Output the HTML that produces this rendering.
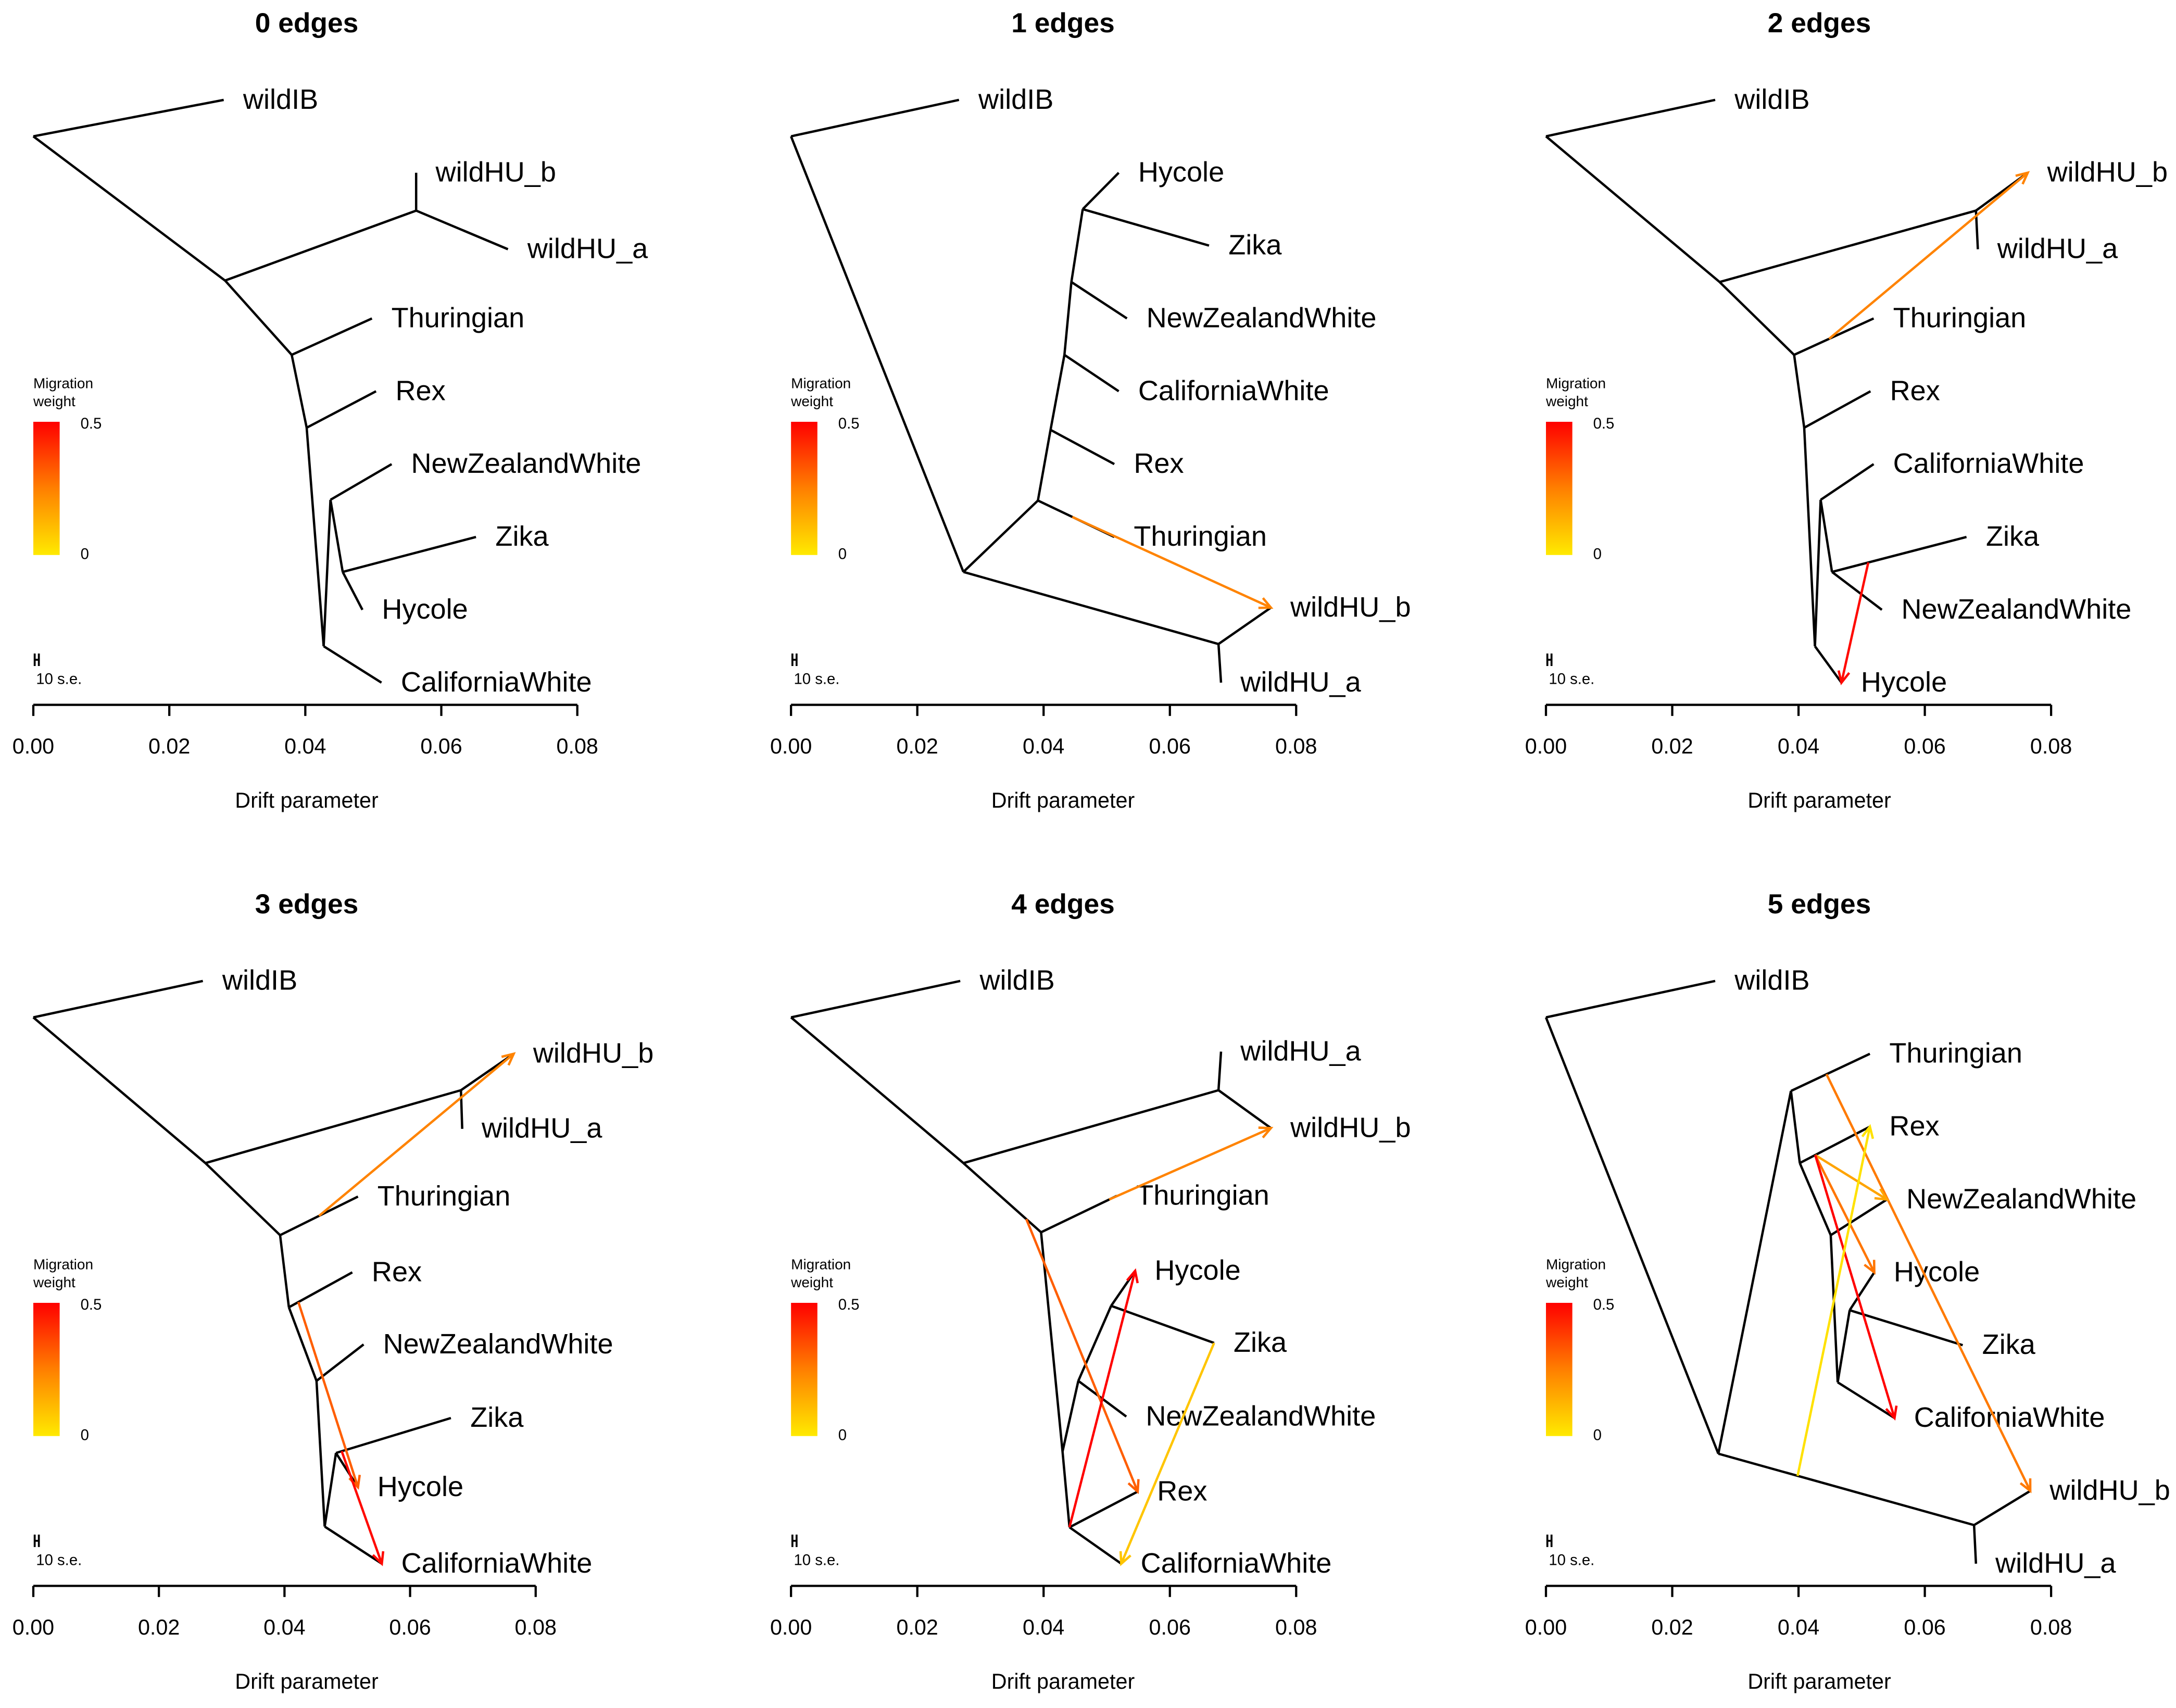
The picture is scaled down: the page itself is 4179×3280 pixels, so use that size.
<!DOCTYPE html>
<html><head><meta charset="utf-8"><style>
html,body{margin:0;padding:0;background:#fff}
svg{display:block}
text{font-family:"Liberation Sans",Arial,sans-serif;fill:#000}
</style></head>
<body>
<svg id="chart" xmlns="http://www.w3.org/2000/svg" width="4179" height="3280" viewBox="0 0 1568 1231" preserveAspectRatio="none">
<defs>
<linearGradient id="mgrad" x1="0" y1="1" x2="0" y2="0">
<stop offset="0" stop-color="#FFEA00"/><stop offset="0.5" stop-color="#FF7F00"/><stop offset="1" stop-color="#FF0000"/>
</linearGradient>
</defs>
</svg>
<script>
// ---------- data ----------
const panelTitles = ["0 edges","1 edges","2 edges","3 edges","4 edges","5 edges"];
const tickValues = [0,0.02,0.04,0.06,0.08];
const tickLabels = ["0.00","0.02","0.04","0.06","0.08"];

const p0Names = ["","wildIB","","","wildHU_b","wildHU_a","","Thuringian","","Rex","","CaliforniaWhite","","NewZealandWhite","","Zika","Hycole"];
const p0Drift = [0,0.028,0.0282,0.0563,0.0563,0.0698,0.038,0.0498,0.0402,0.0504,0.0427,0.0512,0.0437,0.0527,0.0455,0.0651,0.0484];
const p0Slot  = [0.5,0,2.48,1.52,1.0,2.05,3.5,3.0,4.5,4.0,7.5,8,5.49,5,6.48,6,7];
const p0Edges = [[0,1],[0,2],[2,3],[3,4],[3,5],[2,6],[6,7],[6,8],[8,9],[8,10],[10,11],[10,12],[12,13],[12,14],[14,15],[14,16]];
const p0Migs  = [];

const p1Names = ["","wildIB","","","wildHU_b","wildHU_a","","Thuringian","","Rex","","CaliforniaWhite","","NewZealandWhite","","Zika","Hycole"];
const p1Drift = [0,0.0266,0.0273,0.0677,0.076,0.0681,0.0391,0.0512,0.0411,0.0512,0.0433,0.0519,0.0444,0.0532,0.0462,0.0662,0.0519];
const p1Slot  = [0.5,0,6.48,7.47,6.97,8,5.5,6,4.53,5,3.5,4,2.5,3,1.5,2,1];
const p1Edges = [[0,1],[0,2],[2,3],[3,4],[3,5],[2,6],[6,7],[6,8],[8,9],[8,10],[10,11],[10,12],[12,13],[12,14],[14,15],[14,16]];
const p1Migs  = [[6,7,0.45,4,0.22]];

const p2Names = ["","wildIB","","","wildHU_b","wildHU_a","","Thuringian","","Rex","","Hycole","","CaliforniaWhite","","Zika","NewZealandWhite"];
const p2Drift = [0,0.0268,0.0275,0.0681,0.0763,0.0684,0.0393,0.0519,0.0409,0.0514,0.0426,0.0468,0.0435,0.0519,0.0453,0.0666,0.0532];
const p2Slot  = [0.5,0,2.5,1.52,1,2.05,3.5,3,4.5,4,7.5,8,5.49,5,6.48,6,7];
const p2Edges = [[0,1],[0,2],[2,3],[3,4],[3,5],[2,6],[6,7],[6,8],[8,9],[8,10],[10,11],[10,12],[12,13],[12,14],[14,15],[14,16]];
const p2Migs  = [[6,7,0.44,4,0.22],[14,15,0.27,11,0.48]];

const p3Names = ["","wildIB","","","wildHU_b","wildHU_a","","Thuringian","","Rex","","NewZealandWhite","","CaliforniaWhite","","Zika","Hycole"];
const p3Drift = [0,0.027,0.0274,0.0681,0.0765,0.0683,0.0393,0.0517,0.0407,0.0508,0.0451,0.0526,0.0464,0.0555,0.0482,0.0665,0.0517];
const p3Slot  = [0.5,0,2.5,1.5,1,2.03,3.49,2.96,4.48,4,5.49,4.99,7.49,8,6.48,6,6.95];
const p3Edges = [[0,1],[0,2],[2,3],[3,4],[3,5],[2,6],[6,7],[6,8],[8,9],[8,10],[10,11],[10,12],[12,13],[12,14],[14,15],[14,16]];
const p3Migs  = [[6,7,0.5,4,0.22],[8,9,0.15,16,0.3],[14,15,0.05,13,0.48]];

const p4Names = ["","wildIB","","","wildHU_a","wildHU_b","","Thuringian","","","","","Rex","CaliforniaWhite","NewZealandWhite","Hycole","Zika"];
const p4Drift = [0,0.0268,0.0273,0.0677,0.0681,0.076,0.0396,0.0516,0.043,0.0441,0.0455,0.0507,0.0549,0.0523,0.0531,0.0545,0.067];
const p4Slot  = [0.5,0,2.5,1.5,0.97,2.02,3.45,2.95,6.46,7.5,5.49,4.46,7.01,8,5.98,3.98,4.97];
const p4Edges = [[0,1],[0,2],[2,3],[3,4],[3,5],[2,6],[6,7],[6,8],[8,9],[8,10],[9,12],[9,13],[10,14],[10,11],[11,15],[11,16]];
const p4Migs  = [[2,6,0.81,12,0.3],[6,7,0.9,5,0.22],[9,12,0,15,0.5],[11,16,1,13,0.08]];

const p5Names = ["","wildIB","","","wildHU_b","wildHU_a","","Thuringian","","Rex","","NewZealandWhite","","","Hycole","Zika","CaliforniaWhite"];
const p5Drift = [0,0.0268,0.0273,0.0678,0.0767,0.0681,0.0388,0.0513,0.0402,0.0513,0.0451,0.054,0.0462,0.0481,0.052,0.066,0.0552];
const p5Slot  = [0.5,0,6.49,7.47,7,8,1.51,1,2.5,2,3.49,3,5.51,4.52,4,5,6];
const p5Edges = [[0,1],[0,2],[2,3],[3,4],[3,5],[2,6],[6,7],[6,8],[8,9],[8,10],[10,11],[10,12],[12,13],[12,16],[13,14],[13,15]];
const p5Migs  = [[6,7,0.45,4,0.24],[8,9,0.22,11,0.15],[8,9,0.22,14,0.25],[8,9,0.22,16,0.5],[2,3,0.31,9,0.02]];

// ---------- layout ----------
const panels = [
 {names:p0Names,drift:p0Drift,slot:p0Slot,edges:p0Edges,migs:p0Migs},
 {names:p1Names,drift:p1Drift,slot:p1Slot,edges:p1Edges,migs:p1Migs},
 {names:p2Names,drift:p2Drift,slot:p2Slot,edges:p2Edges,migs:p2Migs},
 {names:p3Names,drift:p3Drift,slot:p3Slot,edges:p3Edges,migs:p3Migs},
 {names:p4Names,drift:p4Drift,slot:p4Slot,edges:p4Edges,migs:p4Migs},
 {names:p5Names,drift:p5Drift,slot:p5Slot,edges:p5Edges,migs:p5Migs}
];
const layX0 = [24,570,1114,24,570,1114];
const layK  = [4900,4550,4550,4525,4550,4550];
const layTop = [72,72,72,707,707,707];
const layCx = [221,766,1311,221,766,1311];
const SLOT_H = 52.5;

const svg = document.getElementById('chart');
const NS = 'http://www.w3.org/2000/svg';
function mk(tag, attrs, parent){
  const e = document.createElementNS(NS, tag);
  for (const k in attrs) e.setAttribute(k, attrs[k]);
  (parent||svg).appendChild(e);
  return e;
}
function migColor(w){
  const f = Math.max(0, Math.min(1, w/0.5));
  const g = Math.round(234*(1-f));
  return 'rgb(255,'+g+',0)';
}

panels.forEach((p, pi) => {
  const x0 = layX0[pi], k = layK[pi], top = layTop[pi];
  const xs = v => x0 + v*k;
  const ys = s => top + s*SLOT_H;
  const axisY = top + 436;
  const cx = layCx[pi];
  const g = mk('g', {});
  
  

  const t = mk('text', {x:cx, y:top-54, 'text-anchor':'middle', 'dominant-baseline':'middle', 'font-size':20, 'font-weight':'bold'}, g);
  t.textContent = panelTitles[pi];
  
  

  p.edges.forEach(e => {
    const l = mk('line', {x1:xs(p.drift[e[0]]), y1:ys(p.slot[e[0]]), x2:xs(p.drift[e[1]]), y2:ys(p.slot[e[1]]), stroke:'#000', 'stroke-width':1.7}, g);
    
    
  });
  p.names.forEach((n, i) => {
    if (!n) return;
    const tx = mk('text', {x:xs(p.drift[i])+14, y:ys(p.slot[i])+1, 'dominant-baseline':'middle', 'font-size':20.3}, g);
    tx.textContent = n;
    
    
  });
  p.migs.forEach(m => {
    const a = m[0], b = m[1], tt = m[2];
    const sx = xs(p.drift[a] + (p.drift[b]-p.drift[a])*tt);
    const sy = ys(p.slot[a] + (p.slot[b]-p.slot[a])*tt);
    const ex = xs(p.drift[m[3]]), ey = ys(p.slot[m[3]]);
    const col = migColor(m[4]);
    const l = mk('line', {x1:sx, y1:sy, x2:ex, y2:ey, stroke:col, 'stroke-width':1.7}, g);
    
    
    const ang = Math.atan2(ey-sy, ex-sx), L = 9, sp = 0.45;
    const hx1 = ex - L*Math.cos(ang-sp), hy1 = ey - L*Math.sin(ang-sp);
    const hx2 = ex - L*Math.cos(ang+sp), hy2 = ey - L*Math.sin(ang+sp);
    const h = mk('polyline', {points:hx1+','+hy1+' '+ex+','+ey+' '+hx2+','+hy2, fill:'none', stroke:col, 'stroke-width':1.7}, g);
    
    
  });

  const ax = mk('line', {x1:xs(0), y1:axisY, x2:xs(0.08), y2:axisY, stroke:'#000', 'stroke-width':1.6});
  
  
  tickValues.forEach((v, i) => {
    const tk = mk('line', {x1:xs(v), y1:axisY, x2:xs(v), y2:axisY+8, stroke:'#000', 'stroke-width':1.6});
    
    
    const tl = mk('text', {x:xs(v), y:axisY+31, 'text-anchor':'middle', 'dominant-baseline':'middle', 'font-size':15.5});
    tl.textContent = tickLabels[i];
    
    
  });
  const xt = mk('text', {x:cx, y:axisY+70, 'text-anchor':'middle', 'dominant-baseline':'middle', 'font-size':15.5});
  xt.textContent = 'Drift parameter';
  
  

  const lx = x0, ly = top + 205;
  const lt1 = mk('text', {x:lx, y:ly, 'dominant-baseline':'middle', 'font-size':10.5});
  lt1.textContent = 'Migration';
  
  
  const lt2 = mk('text', {x:lx, y:ly+13, 'dominant-baseline':'middle', 'font-size':10.5});
  lt2.textContent = 'weight';
  
  
  const bar = mk('rect', {x:lx, y:ly+27, width:19, height:96, fill:'url(#mgrad)'});
  
  
  const l5 = mk('text', {x:lx+34, y:ly+29, 'dominant-baseline':'middle', 'font-size':11});
  l5.textContent = '0.5';
  
  
  const l0 = mk('text', {x:lx+34, y:ly+123, 'dominant-baseline':'middle', 'font-size':11});
  l0.textContent = '0';
  
  
  const sb = mk('path', {d:'M'+(lx+1)+' '+(ly+194)+' v9 M'+(lx+4)+' '+(ly+194)+' v9 M'+(lx+1)+' '+(ly+198.5)+' h3', stroke:'#000', 'stroke-width':1.4, fill:'none'});
  
  
  const st = mk('text', {x:lx+2, y:ly+213, 'dominant-baseline':'middle', 'font-size':11});
  st.textContent = '10 s.e.';
  
  
});
</script>
</body></html>
